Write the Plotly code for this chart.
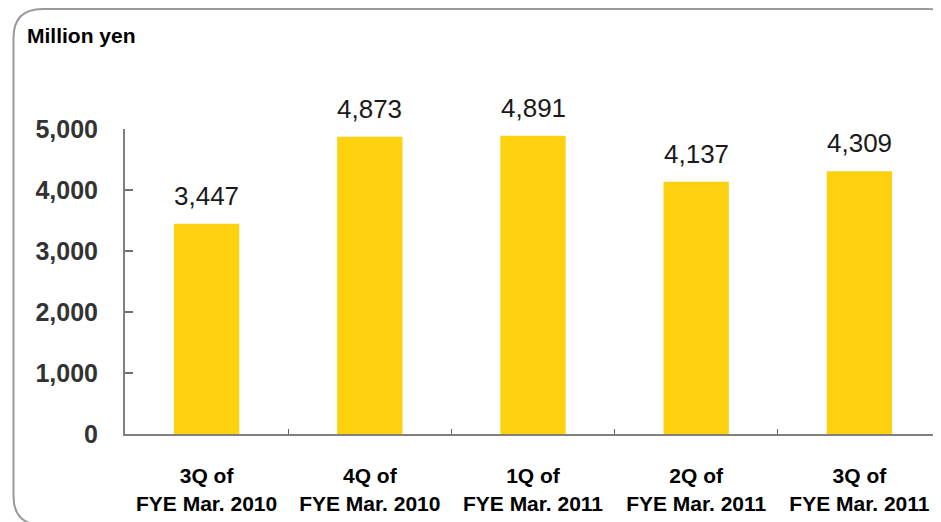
import plotly.graph_objects as go

categories = ["3Q of<br>FYE Mar. 2010", "4Q of<br>FYE Mar. 2010", "1Q of<br>FYE Mar. 2011",
              "2Q of<br>FYE Mar. 2011", "3Q of<br>FYE Mar. 2011"]
values = [3447, 4873, 4891, 4137, 4309]
value_labels = ["3,447", "4,873", "4,891", "4,137", "4,309"]
y_ticks = [0, 1000, 2000, 3000, 4000, 5000]
y_tick_labels = ["0", "1,000", "2,000", "3,000", "4,000", "5,000"]
unit_label = "Million yen"

# page body has an 8px margin; work in screen pixels and convert
OFF = 8
W, H = 941 - OFF, 522 - OFF
L, R, T, B = 125 - OFF, 0, 129 - OFF, 88
PW, PH = W - L - R, H - T - B
FONT = "Liberation Sans, Arial, sans-serif"

def px(x):
    return (x - OFF - L) / PW

def py(y):
    return (H - B - (y - OFF)) / PH

fig = go.Figure()
fig.add_trace(go.Bar(
    x=categories, y=values,
    marker=dict(color="#FDD10D", line=dict(width=0)),
    width=0.4, hoverinfo="skip",
))

annotations = []
for c, v, t in zip(categories, values, value_labels):
    annotations.append(dict(
        x=c, y=v, xref="x", yref="y", text=t, showarrow=False,
        yanchor="bottom", yshift=11,
        font=dict(family=FONT, size=26, color="#1a1a1a"),
    ))
annotations.append(dict(
    x=px(25), y=py(35), xref="paper", yref="paper", text=unit_label,
    showarrow=False, xanchor="left", yanchor="middle",
    font=dict(family=FONT, size=21, color="#000000", weight="bold"),
))

# rounded frame
x0, x1, y0, y1, r = 13.5, 957, 9, 525, 29
path = (f"M {px(x0)},{py(y0 + r)} Q {px(x0)},{py(y0)} {px(x0 + r)},{py(y0)} "
        f"L {px(x1 - r)},{py(y0)} Q {px(x1)},{py(y0)} {px(x1)},{py(y0 + r)} "
        f"L {px(x1)},{py(y1 - r)} Q {px(x1)},{py(y1)} {px(x1 - r)},{py(y1)} "
        f"L {px(x0 + r)},{py(y1)} Q {px(x0)},{py(y1)} {px(x0)},{py(y1 - r)} Z")

fig.update_layout(
    width=W, height=H,
    margin=dict(l=L, r=R, t=T, b=B, pad=0),
    paper_bgcolor="white", plot_bgcolor="white",
    showlegend=False,
    annotations=annotations,
    shapes=[dict(type="path", path=path, xref="paper", yref="paper",
                 line=dict(color="#9a9a9a", width=2), layer="below")],
    xaxis=dict(
        range=[-0.5, 4.5], showgrid=False, zeroline=False,
        showline=True, linecolor="#808080", linewidth=2,
        ticks="inside", tickson="boundaries", ticklen=5, tickwidth=1, tickcolor="#606060",
        ticklabelstandoff=22,
        tickfont=dict(family=FONT, size=21, color="#000000", weight="bold"),
        tickangle=0,
    ),
    yaxis=dict(
        range=[0, 5000], showgrid=False, zeroline=False,
        showline=True, linecolor="#808080", linewidth=2,
        ticks="inside", ticklen=8, tickwidth=2, tickcolor="#707070",
        tickvals=y_ticks, ticktext=y_tick_labels,
        ticklabelstandoff=20,
        tickfont=dict(family=FONT, size=25, color="#333333", weight="bold"),
    ),
)

fig.write_html("out.html")
